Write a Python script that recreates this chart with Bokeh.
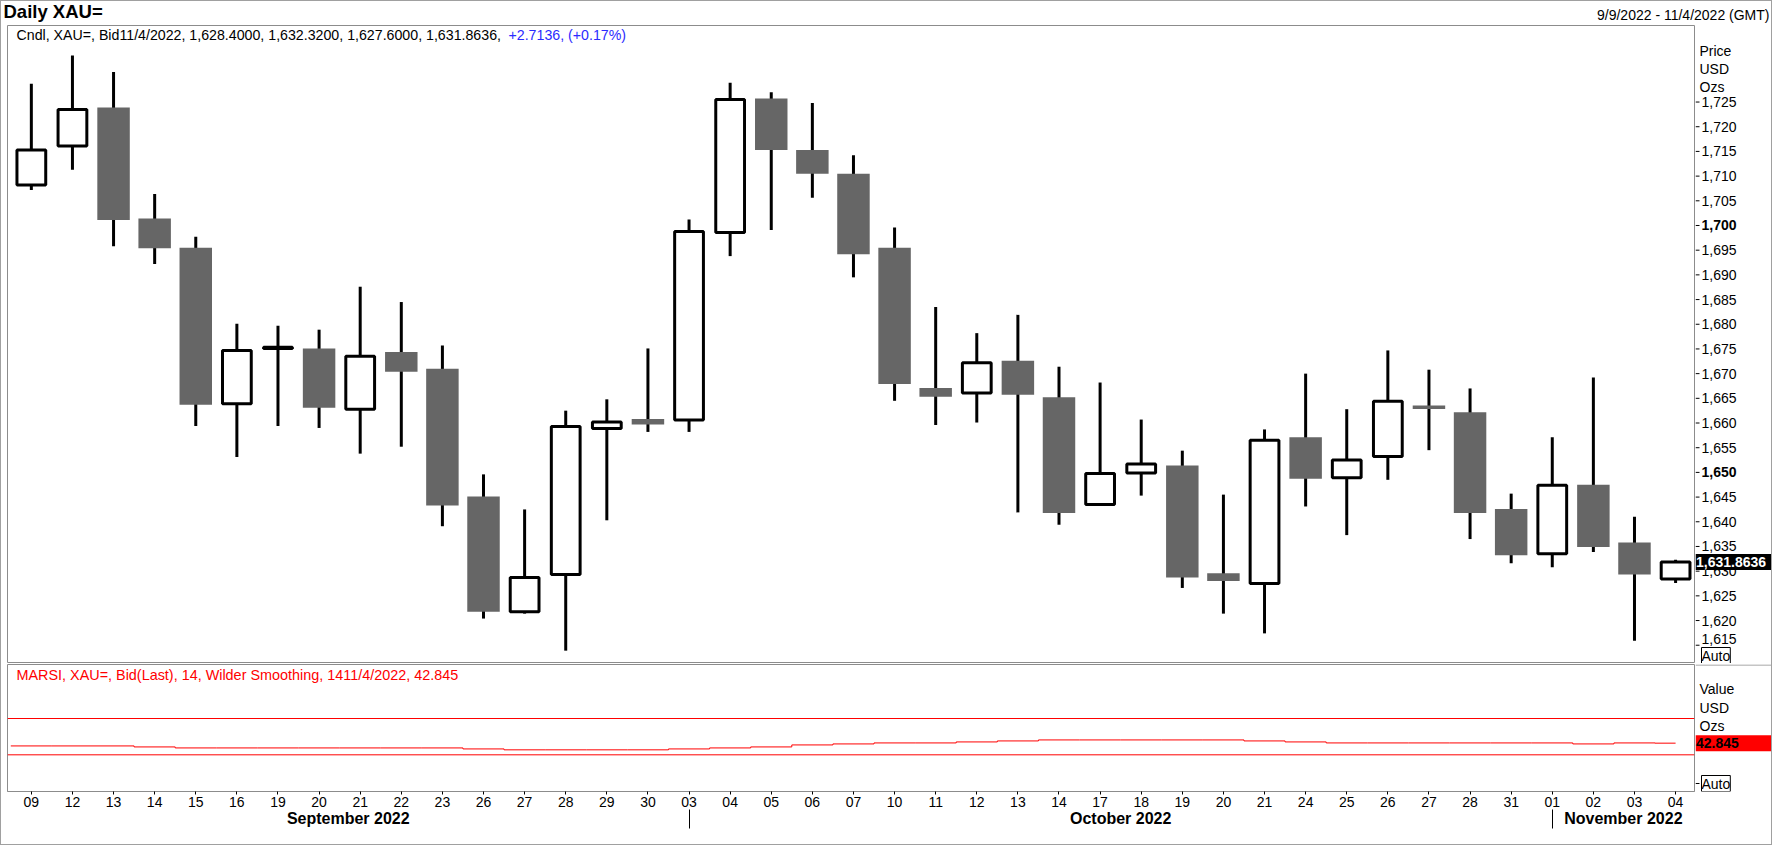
from bokeh.plotting import figure
from bokeh.layouts import column, row
from bokeh.models import Range1d, LinearAxis, FixedTicker, Label, Span
from bokeh.core.properties import value
from bokeh.embed import file_html
from bokeh.resources import INLINE

# ---------------- data ----------------
day_labels = ["09", "12", "13", "14", "15", "16", "19", "20", "21", "22", "23", "26", "27", "28", "29", "30",
              "03", "04", "05", "06", "07", "10", "11", "12", "13", "14", "17", "18", "19", "20", "21",
              "24", "25", "26", "27", "28", "31",
              "01", "02", "03", "04"]
month_names = ["September 2022", "October 2022", "November 2022"]
month_counts = [16, 21, 4]

opens = [1708.2, 1716.1, 1723.9, 1701.4, 1695.5, 1663.9, 1675.1, 1675.1, 1662.8, 1674.4,
         1671.0, 1645.1, 1621.8, 1629.3, 1658.9, 1660.8, 1660.6, 1698.6, 1725.7, 1715.3,
         1710.5, 1695.5, 1667.1, 1666.1, 1672.6, 1665.2, 1643.5, 1649.9, 1651.4, 1629.6,
         1627.5, 1657.1, 1648.9, 1653.2, 1663.55, 1662.2, 1642.6, 1633.5, 1647.5, 1635.8,
         1628.4]
highs = [1728.7, 1734.4, 1731.1, 1706.4, 1697.7, 1680.1, 1679.7, 1678.9, 1687.6, 1684.5,
         1675.7, 1649.6, 1642.5, 1662.5, 1664.8, 1675.1, 1701.2, 1728.9, 1727.0, 1724.8,
         1714.2, 1699.6, 1683.5, 1678.2, 1681.9, 1671.4, 1668.2, 1660.7, 1654.4, 1645.5,
         1658.7, 1670.0, 1662.8, 1674.7, 1670.8, 1667.0, 1645.7, 1657.1, 1669.2, 1641.0,
         1632.32]
lows = [1707.2, 1711.3, 1695.8, 1692.2, 1659.4, 1653.1, 1659.4, 1659.0, 1653.8, 1655.2,
        1639.1, 1620.4, 1621.4, 1613.9, 1640.3, 1658.2, 1658.2, 1693.8, 1699.1, 1705.6,
        1689.5, 1664.5, 1659.6, 1660.1, 1641.9, 1639.4, 1643.5, 1645.3, 1626.6, 1621.4,
        1617.4, 1643.1, 1637.3, 1648.5, 1654.5, 1636.5, 1631.6, 1630.8, 1633.9, 1615.9,
        1627.6]
closes = [1715.3, 1723.5, 1701.1, 1695.4, 1663.7, 1674.7, 1675.35, 1663.1, 1673.5, 1670.4,
          1643.3, 1621.8, 1628.7, 1659.3, 1660.2, 1659.7, 1698.8, 1725.5, 1715.3, 1710.5,
          1694.2, 1667.9, 1665.3, 1672.2, 1665.7, 1641.8, 1649.8, 1651.7, 1628.7, 1628.0,
          1656.5, 1648.7, 1652.5, 1664.4, 1662.85, 1641.8, 1633.2, 1647.4, 1634.9, 1629.3,
          1631.8636]
rsi = [39.8, 39.8, 39.8, 38.7, 37.6, 37.6, 37.6, 37.6, 37.6, 37.6,
       37.6, 36.5, 35.5, 35.5, 35.5, 35.5, 36.5, 37.6, 38.7, 40.9,
       42.0, 43.1, 43.1, 44.2, 45.3, 46.4, 46.4, 46.4, 46.4, 46.4,
       45.3, 44.2, 43.1, 43.1, 43.1, 43.1, 43.1, 43.1, 42.0, 43.1,
       42.845]
rsi_levels = [70, 30]
price_ticks = list(range(1615, 1730, 5))
bold_ticks = [1650, 1700]

legend_main = "Cndl, XAU=, Bid11/4/2022, 1,628.4000, 1,632.3200, 1,627.6000, 1,631.8636,"
legend_change = "+2.7136, (+0.17%)"
legend_rsi = "MARSI, XAU=, Bid(Last),  14, Wilder Smoothing, 1411/4/2022, 42.845"
date_span = "9/9/2022 - 11/4/2022 (GMT)"
price_side = ["Price", "USD", "Ozs"]
rsi_side = ["Value", "USD", "Ozs"]

# ---------------- geometry (page pixels) ----------------
FONT = "Liberation Sans"
FRAME = "#8c8c8c"
GRAY = "#666666"
XR0, XR1 = -0.58, 40.46
Y1R0, Y1R1 = 1611.3, 1740.5          # price frame: page y 33 .. 671
Y2R0, Y2R1 = -10.4, 129.5            # rsi frame:   page y 672 .. 799
RAIL_L, RAIL_R = 1703, 1779


def fx(px):
    return XR0 + (px - 15) * (XR1 - XR0) / 1687.0


def fy1(py):
    return Y1R1 - (py - 33) * (Y1R1 - Y1R0) / 638.0


def fy2(py):
    return Y2R1 - (py - 672) * (Y2R1 - Y2R0) / 127.0


def bare(fig):
    fig.xgrid.visible = False
    fig.ygrid.visible = False
    fig.border_fill_color = "white"
    fig.background_fill_color = "white"
    return fig


def lab(fig, text, x, y, size="14px", color="black", style="normal", align="left", **kw):
    fig.add_layout(Label(x=x, y=y, text=text, text_font=FONT, text_font_size=size,
                         text_color=color, text_font_style=style, text_align=align,
                         text_baseline="middle", **kw))


n = len(opens)
idx = list(range(n))
xr = Range1d(XR0, XR1)
y1 = Range1d(Y1R0, Y1R1)
y2 = Range1d(Y2R0, Y2R1)

# ---------------- header ----------------
head = bare(figure(width=1770, height=23, x_range=Range1d(9, 1779), y_range=Range1d(32, 9),
                   output_backend="svg", toolbar_location=None,
                   x_axis_location=None, y_axis_location=None, min_border=0))
head.outline_line_color = None
lab(head, "Daily XAU=", 11, 19.2, size="18.5px", style="bold")
lab(head, date_span, 1777, 22, align="right")

# ---------------- price pane ----------------
p = bare(figure(width=1694, height=639, x_range=xr, y_range=y1,
                output_backend="svg", toolbar_location=None,
                x_axis_location=None, y_axis_location=None,
                min_border_left=6, min_border_top=1, min_border_right=1, min_border_bottom=0))
p.outline_line_color = FRAME

up = [i for i in idx if closes[i] >= opens[i]]
dn = [i for i in idx if closes[i] < opens[i]]
p.segment(x0=idx, y0=highs, x1=idx, y1=lows, line_width=3, line_color="black")
p.vbar(x=dn, width=0.79, top=[opens[i] for i in dn], bottom=[closes[i] for i in dn],
       fill_color=GRAY, line_color=None)
p.vbar(x=up, width=0.70, top=[closes[i] for i in up], bottom=[opens[i] for i in up],
       fill_color="white", line_color="black", line_width=3)

lab(p, legend_main, fx(24), fy1(42.8), size="14.2px")
lab(p, legend_change, fx(516), fy1(42.8), size="14.2px", color="#2b2bff")

# price scale rail (right of the price pane)
r1 = bare(figure(width=76, height=639, x_range=Range1d(RAIL_L, RAIL_R), y_range=y1,
                 output_backend="svg", toolbar_location=None,
                 x_axis_location=None, y_axis_location=None,
                 min_border_left=0, min_border_right=0, min_border_top=1, min_border_bottom=0))
r1.outline_line_color = None
lowest = min(price_ticks)
reg_ticks = [t for t in price_ticks if t not in bold_ticks and t != lowest]
r1.segment(x0=[RAIL_L] * len(price_ticks), y0=price_ticks,
           x1=[RAIL_L + 4] * len(price_ticks), y1=price_ticks, line_color="black", line_width=1)
r1.text(x=[RAIL_L + 6] * len(reg_ticks), y=reg_ticks, text=["{:,}".format(t) for t in reg_ticks],
        text_font=value(FONT), text_font_size="14px", text_baseline="middle", text_align="left",
        text_color="black")
r1.text(x=[RAIL_L + 6], y=[lowest], text=["{:,}".format(lowest)], y_offset=-6,
        text_font=value(FONT), text_font_size="14px", text_baseline="middle", text_align="left",
        text_color="black")
r1.text(x=[RAIL_L + 6] * len(bold_ticks), y=bold_ticks, text=["{:,}".format(t) for t in bold_ticks],
        text_font=value(FONT), text_font_size="14px", text_font_style="bold",
        text_baseline="middle", text_align="left", text_color="black")
for t, yy in zip(price_side, [58.3, 76.7, 94.7]):
    lab(r1, t, RAIL_L + 4, fy1(yy))
hpx1 = 8 * (Y1R1 - Y1R0) / 638.0
r1.quad(left=[RAIL_L], right=[RAIL_R], top=[closes[-1] + hpx1], bottom=[closes[-1] - hpx1],
        fill_color="black", line_color=None)
lab(r1, "{:,.4f}".format(closes[-1]), RAIL_L + 0.5, closes[-1], color="white", style="bold")
lab(r1, "Auto", RAIL_L + 6, fy1(663), border_line_color="black",
    background_fill_color="white", padding=0)

# ---------------- RSI pane ----------------
q = bare(figure(width=1694, height=181, x_range=xr, y_range=y2,
                output_backend="svg", toolbar_location=None,
                x_axis_location=None, y_axis_location=None,
                min_border_left=6, min_border_top=1, min_border_right=1, min_border_bottom=53))
q.outline_line_color = FRAME

for lv in rsi_levels:
    q.add_layout(Span(location=lv, dimension="width", line_color="red", line_width=1))

sx, sy = [], []
for i, v in enumerate(rsi):
    sx += [max(i - 0.5, XR0), min(i + 0.5, n - 1)]
    sy += [v, v]
q.line(sx, sy, line_color="red", line_width=1)

xax = LinearAxis(ticker=FixedTicker(ticks=idx),
                 major_label_overrides={i: d for i, d in enumerate(day_labels)},
                 major_tick_out=3, major_tick_in=0, minor_tick_out=0, minor_tick_in=0,
                 major_tick_line_color="black", axis_line_color=FRAME,
                 major_label_standoff=2,
                 major_label_text_font=FONT, major_label_text_font_size="14px",
                 major_label_text_color="black")
q.add_layout(xax, "below")

starts, s = [], 0
for c in month_counts:
    starts.append(s)
    s += c
bounds = [XR0] + starts[1:] + [XR1]
centers = [(bounds[k] + bounds[k + 1]) / 2.0 for k in range(len(month_names))]
max_ = LinearAxis(ticker=FixedTicker(ticks=centers, minor_ticks=starts[1:]),
                  major_label_overrides={c: m for c, m in zip(centers, month_names)},
                  major_tick_out=0, major_tick_in=0, minor_tick_out=19, minor_tick_in=0,
                  minor_tick_line_color="black", axis_line_color=None,
                  major_label_standoff=-19,
                  major_label_text_font=FONT, major_label_text_font_size="16px",
                  major_label_text_font_style="bold", major_label_text_color="black")
q.add_layout(max_, "below")

lab(q, legend_rsi, fx(24), fy2(682), size="14.4px", color="red")

# value scale rail (right of the RSI pane)
r2 = bare(figure(width=76, height=181, x_range=Range1d(RAIL_L, RAIL_R), y_range=y2,
                 output_backend="svg", toolbar_location=None,
                 x_axis_location=None, y_axis_location=None,
                 min_border_left=0, min_border_right=0, min_border_top=1, min_border_bottom=53))
r2.outline_line_color = None
top_line = fy2(672.5)
r2.segment(x0=[RAIL_L], y0=[top_line], x1=[RAIL_R], y1=[top_line], line_color=FRAME, line_width=1)
for t, yy in zip(rsi_side, [696.7, 715, 733]):
    lab(r2, t, RAIL_L + 4, fy2(yy))
hpx2 = 8 * (Y2R1 - Y2R0) / 127.0
r2.quad(left=[RAIL_L], right=[RAIL_R], top=[rsi[-1] + hpx2], bottom=[rsi[-1] - hpx2],
        fill_color="red", line_color=None)
lab(r2, "{:.3f}".format(rsi[-1]), RAIL_L + 0.5, rsi[-1], style="bold")
auto_y = fy2(791)
r2.segment(x0=[RAIL_L], y0=[auto_y], x1=[RAIL_L + 4], y1=[auto_y], line_color="black", line_width=1)
lab(r2, "Auto", RAIL_L + 6, auto_y, border_line_color="black",
    background_fill_color="white", padding=0)

layout = column(head, row(p, r1, spacing=0), row(q, r2, spacing=0), spacing=0,
                styles={"border": "1px solid #a0a0a0"})
open("out.html", "w").write(file_html(layout, INLINE))
